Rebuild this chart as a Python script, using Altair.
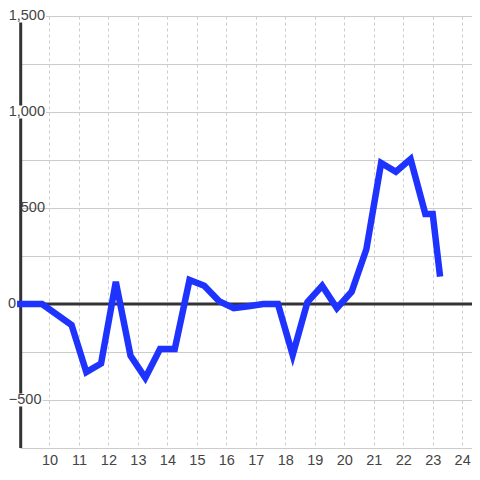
import altair as alt
import pandas as pd

# ---- data ----
hours = [8.9, 9.75, 10.75, 11.25, 11.75, 12.25, 12.75, 13.25, 13.75, 14.25,
         14.75, 15.25, 15.75, 16.25, 16.75, 17.25, 17.75, 18.25, 18.75, 19.25,
         19.75, 20.25, 20.75, 21.25, 21.75, 22.25, 22.75, 23.0, 23.25]
values = [0, 0, -110, -355, -310, 115, -270, -385, -235, -235,
          125, 95, 15, -22, -12, 0, 0, -265, 10, 95,
          -22, 64, 285, 735, 689, 755, 469, 469, 142]
x_ticks = list(range(10, 25))
y_labels = [-500, 0, 500, 1000, 1500]
y_grid = [-750, -500, -250, 0, 250, 500, 750, 1000, 1250, 1500]
x_domain = [9, 24.333]
y_domain = [-750, 1500]

W, H = 452, 432

df = pd.DataFrame({"hour": hours, "value": values})
lab_df = pd.DataFrame({"v": y_labels})
zero_df = pd.DataFrame({"v": [0]})
axis_df = pd.DataFrame({"lo": [y_domain[0]], "hi": [y_domain[1]]})

FONT = "Liberation Sans"
xscale = alt.Scale(domain=x_domain, nice=False, zero=False)
yscale = alt.Scale(domain=y_domain, nice=False, zero=False)

axis_rule = alt.Chart(axis_df).mark_rule(color="#333333", strokeWidth=3).encode(
    x=alt.value(0.7),
    y=alt.Y("lo:Q", scale=yscale),
    y2="hi:Q",
)

def label_group(vals, right, box_left=None):
    layers = []
    src = alt.Chart(lab_df).transform_filter(
        alt.FieldOneOfPredicate(field="v", oneOf=vals))
    if box_left is not None:
        layers.append(src.mark_rect(color="white", yOffset=-6.5, y2Offset=6.5).encode(
            x=alt.value(box_left), x2=alt.value(right + 1),
            y=alt.Y("v:Q", scale=yscale), y2="v:Q"))
    layers.append(src.mark_text(align="right", baseline="middle", font=FONT,
                                fontSize=14.5, color="#444444").encode(
        x=alt.value(right),
        y=alt.Y("v:Q", scale=yscale),
        text=alt.Text("v:Q", format=",")))
    return layers

labels = []
labels += label_group([1000, 1500], 25, box_left=-12)
labels += label_group([500], 25)
labels += label_group([-500], 21.5, box_left=-12)
labels += label_group([0], -4)

zero_rule = alt.Chart(zero_df).mark_rule(color="#333333", strokeWidth=3).encode(
    x=alt.value(0), x2=alt.value(W),
    y=alt.Y("v:Q", scale=yscale),
)

line = alt.Chart(df).mark_line(color="#1f33ff", strokeWidth=6.5, strokeJoin="miter",
                               strokeCap="butt", clip=False).encode(
    x=alt.X("hour:Q", scale=xscale,
            axis=alt.Axis(values=x_ticks, grid=True, gridDash=[3, 3], gridColor="#cccccc",
                          domain=False, ticks=False, labelFont=FONT, labelFontSize=14.5,
                          labelColor="#444444", labelPadding=5, title=None)),
    y=alt.Y("value:Q", scale=yscale,
            axis=alt.Axis(values=y_grid, grid=True, gridColor="#cccccc", domain=False,
                          ticks=False, labels=False, title=None)),
)

chart = alt.layer(axis_rule, *labels, zero_rule, line).properties(
    width=W, height=H,
    autosize=alt.AutoSizeParams(type="none"),
    padding={"left": 12, "top": 8, "right": 0, "bottom": 24},
    background="white",
).configure_view(stroke=None)

chart.save("out.html", embed_options={"renderer": "svg", "actions": False})
